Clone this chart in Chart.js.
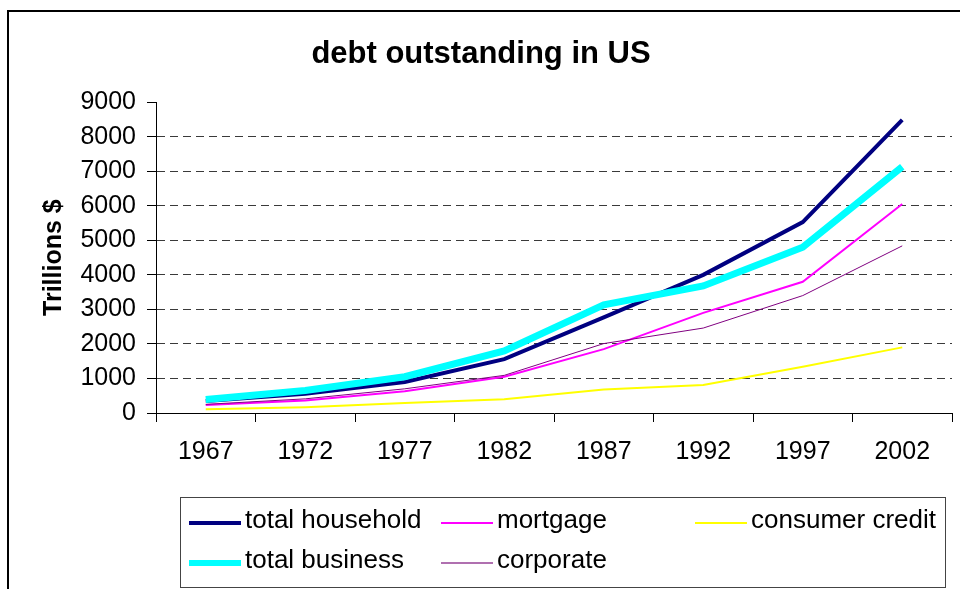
<!DOCTYPE html>
<html>
<head>
<meta charset="utf-8">
<script src="https://cdn.jsdelivr.net/npm/chart.js@4"></script>
<style>
    body { margin: 0; background: #fff; }
    #wrap { position: relative; width: 960px; height: 589px; overflow: hidden; background: #fff; }
    #debtChart { position: absolute; left: 0; top: 0; }
    #frame { position: absolute; left: 7px; top: 10px; width: 1000px; height: 700px; border: 2px solid #000; }
    #legend { position: absolute; left: 180px; top: 497px; width: 764px; height: 89px; border: 1px solid #444;
              font-family: Arial, "Liberation Sans", sans-serif; font-size: 26px; color: #000; }
    .item { position: absolute; height: 30px; line-height: 30px; white-space: nowrap; }
    .swatch { position: absolute; left: 0; width: 52px; }
    .label { position: absolute; left: 56px; top: 0; }
</style>
</head>
<body>
<div id="wrap">
    <canvas id="debtChart" width="960" height="589"></canvas>
    <div id="frame"></div>
    <div id="legend"></div>
</div>
<script>
// debt outstanding in US

const years = ['1967', '1972', '1977', '1982', '1987', '1992', '1997', '2002'];
const yTicks = [0, 1000, 2000, 3000, 4000, 5000, 6000, 7000, 8000, 9000];

const totalHousehold = [350, 560, 900, 1560, 2770, 4000, 5530, 8490];
const mortgage = [230, 360, 630, 1050, 1850, 2900, 3800, 6050];
const consumerCredit = [110, 170, 290, 400, 680, 810, 1340, 1900];
const totalBusiness = [390, 650, 1050, 1800, 3130, 3680, 4800, 7130];
const corporate = [250, 410, 700, 1090, 2010, 2460, 3400, 4840];

const series = [
    { label: 'total household', data: totalHousehold, color: '#000080', width: 4 },
    { label: 'mortgage', data: mortgage, color: '#FF00FF', width: 2 },
    { label: 'consumer credit', data: consumerCredit, color: '#FFFF00', width: 2 },
    { label: 'total business', data: totalBusiness, color: '#00FFFF', width: 7 },
    { label: 'corporate', data: corporate, color: '#800080', width: 1 }
];

// legend slots, same layout as the excel one
const legendSlots = [
    { x: 8, y: 6 }, { x: 260, y: 6 }, { x: 514, y: 6 },
    { x: 8, y: 46 }, { x: 260, y: 46 }
];

function buildLegend() {
    const box = document.getElementById('legend');
    series.forEach((s, i) => {
        const item = document.createElement('div');
        item.className = 'item';
        item.style.left = legendSlots[i].x + 'px';
        item.style.top = legendSlots[i].y + 'px';
        const sw = document.createElement('div');
        sw.className = 'swatch';
        const h = Math.max(2, Math.min(s.width, 6));
        sw.style.height = h + 'px';
        sw.style.top = (15 - h / 2 + 4) + 'px';
        sw.style.background = s.color;
        if (s.label === 'corporate') sw.style.background = '#b070b0';
        const txt = document.createElement('div');
        txt.className = 'label';
        txt.textContent = s.label;
        item.appendChild(sw);
        item.appendChild(txt);
        box.appendChild(item);
    });
}

function drawChart() {
    const ctx = document.getElementById('debtChart').getContext('2d');

    new Chart(ctx, {
        type: 'line',
        data: {
            labels: years,
            datasets: series.map((s, i) => ({
                label: s.label,
                data: s.data,
                borderColor: s.color,
                backgroundColor: s.color,
                borderWidth: s.width,
                pointRadius: 0,
                tension: 0,
                fill: false,
                order: series.length - i
            }))
        },
        options: {
            responsive: false,
            animation: false,
            devicePixelRatio: 1,
            layout: {
                padding: { left: 10, right: 8, top: 10, bottom: 116 }
            },
            scales: {
                x: {
                    offset: true,
                    afterFit: scale => { scale.height = 60; },
                    grid: {
                        drawOnChartArea: false,
                        offset: true,
                        color: '#000',
                        tickColor: '#000',
                        tickLength: 9
                    },
                    border: { color: '#000', width: 1 },
                    ticks: {
                        color: '#000',
                        padding: 15,
                        maxRotation: 0,
                        font: { family: 'Arial, "Liberation Sans", sans-serif', size: 25 }
                    }
                },
                y: {
                    min: 0,
                    max: 9000,
                    afterFit: scale => { scale.width = 146; },
                    afterBuildTicks: scale => { scale.ticks = yTicks.map(v => ({ value: v })); },
                    grid: {
                        color: c => (c.tick && (c.tick.value === 0 || c.tick.value === 9000)) ? 'rgba(0,0,0,0)' : '#3a3a3a',
                        tickColor: '#000',
                        tickLength: 9,
                        tickBorderDash: []
                    },
                    border: { color: '#000', width: 1, dash: [8, 5] },
                    ticks: {
                        color: '#000',
                        padding: 11,
                        callback: v => String(v),
                        font: { family: 'Arial, "Liberation Sans", sans-serif', size: 25 }
                    },
                    title: {
                        display: true,
                        text: 'Trillions $',
                        color: '#000',
                        padding: { top: 29, bottom: 0 },
                        font: { family: 'Arial, "Liberation Sans", sans-serif', size: 25, weight: 'bold' }
                    }
                }
            },
            plugins: {
                legend: { display: false },
                tooltip: { enabled: false },
                title: {
                    display: true,
                    text: 'debt outstanding in US',
                    color: '#000',
                    padding: { top: 26, bottom: 29 },
                    font: { family: 'Arial, "Liberation Sans", sans-serif', size: 31, weight: 'bold' }
                }
            }
        }
    });
}

document.addEventListener('DOMContentLoaded', () => {
    buildLegend();
    drawChart();
});
</script>
</body>
</html>
